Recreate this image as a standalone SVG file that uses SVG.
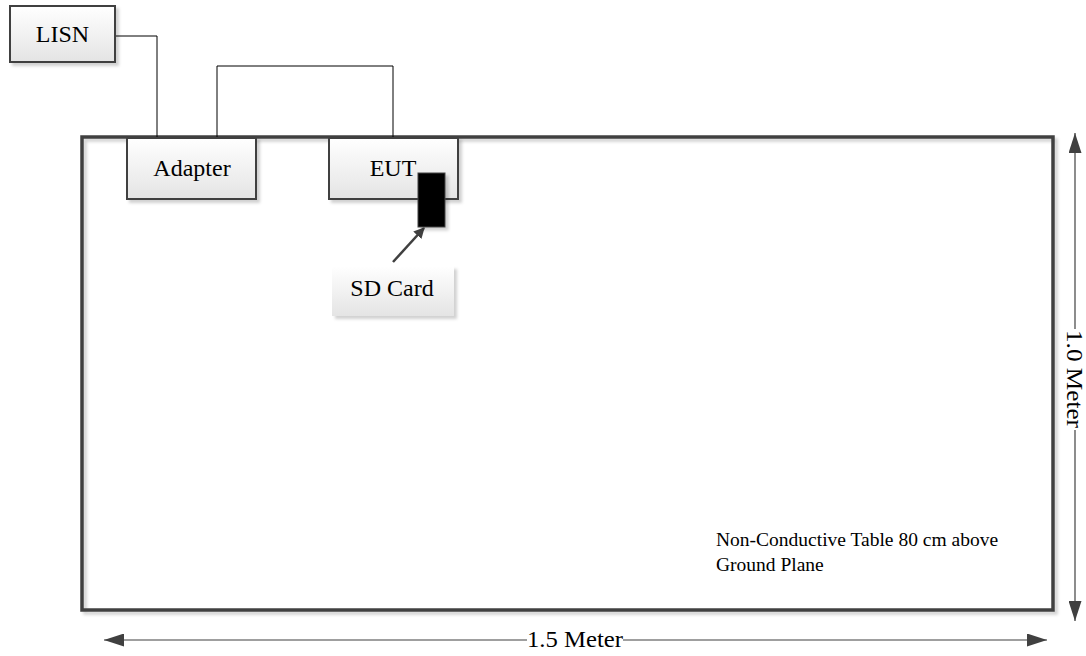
<svg xmlns="http://www.w3.org/2000/svg" width="1086" height="656" viewBox="0 0 1086 656">
<defs>
<linearGradient id="boxGrad" x1="0" y1="0" x2="0" y2="1">
<stop offset="0" stop-color="#ffffff"/>
<stop offset="1" stop-color="#e4e4e4"/>
</linearGradient>
<filter id="sh" x="-10%" y="-10%" width="130%" height="130%">
<feDropShadow dx="3" dy="3" stdDeviation="1.5" flood-color="#000" flood-opacity="0.18"/>
</filter>
<marker id="arr" viewBox="0 0 10 10" refX="9" refY="5" markerWidth="11" markerHeight="11" orient="auto-start-reverse" markerUnits="userSpaceOnUse">
<path d="M0,0 L10,5 L0,10 Z" fill="#404040"/>
</marker>
<marker id="dim" viewBox="0 0 20 13" refX="20" refY="6.5" markerWidth="20" markerHeight="13" orient="auto-start-reverse" markerUnits="userSpaceOnUse">
<path d="M0,0 L20,6.5 L0,13 Z" fill="#404040"/>
</marker>
</defs>
<style>
.box{fill:url(#boxGrad);stroke:#404040;stroke-width:2;filter:url(#sh)}
.lbl{font-family:"Liberation Serif","Times New Roman",serif;font-size:24px;fill:#000}
.small{font-family:"Liberation Serif","Times New Roman",serif;font-size:19.5px;fill:#000}
.wire{fill:none;stroke:#000;stroke-width:1}
.dimline{fill:none;stroke:#404040;stroke-width:1.2}
</style>
<rect width="1086" height="656" fill="#ffffff"/>

<g id="table">
<rect x="82" y="137" width="971" height="473" fill="none" stroke="#404040" stroke-width="3.5" filter="url(#sh)"/>
<text class="small" x="716" y="546">Non-Conductive Table 80 cm above</text>
<text class="small" x="716" y="571">Ground Plane</text>
</g>

<g id="connectors">
<polyline class="wire" points="115,36 157,36 157,137"/>
<polyline class="wire" points="217,137 217,66 393,66 393,137"/>
<line x1="393" y1="262" x2="424" y2="228" stroke="#404040" stroke-width="2.5" marker-end="url(#arr)"/>
</g>

<g id="lisn">
<rect class="box" x="10" y="6" width="105" height="56"/>
<text class="lbl" x="62.5" y="42" text-anchor="middle">LISN</text>
</g>

<g id="adapter">
<rect class="box" x="127" y="138" width="129" height="61"/>
<text class="lbl" x="192" y="176" text-anchor="middle">Adapter</text>
</g>

<g id="eut">
<rect class="box" x="329" y="138" width="129" height="61"/>
<text class="lbl" x="393" y="176" text-anchor="middle">EUT</text>
</g>

<g id="sdcard-slot">
<rect x="418" y="173" width="27" height="54" fill="#000" stroke="#404040" stroke-width="1" filter="url(#sh)"/>
</g>

<g id="sdcard">
<rect x="332" y="266" width="122" height="50" fill="url(#boxGrad)" filter="url(#sh)"/>
<text class="lbl" x="392" y="296" text-anchor="middle" font-size="22">SD Card</text>
</g>

<g id="dim-height">
<line class="dimline" x1="1075" y1="133" x2="1075" y2="329" marker-start="url(#dim)"/>
<line class="dimline" x1="1075" y1="430" x2="1075" y2="621" marker-end="url(#dim)"/>
<text class="lbl" transform="translate(1067,379) rotate(90)" text-anchor="middle" font-size="22" textLength="98" lengthAdjust="spacingAndGlyphs">1.0 Meter</text>
</g>

<g id="dim-width">
<line class="dimline" x1="104" y1="640" x2="527" y2="640" marker-start="url(#dim)"/>
<line class="dimline" x1="623" y1="640" x2="1047" y2="640" marker-end="url(#dim)"/>
<text class="lbl" x="527" y="647" font-size="22" textLength="96" lengthAdjust="spacingAndGlyphs">1.5 Meter</text>
</g>
</svg>
